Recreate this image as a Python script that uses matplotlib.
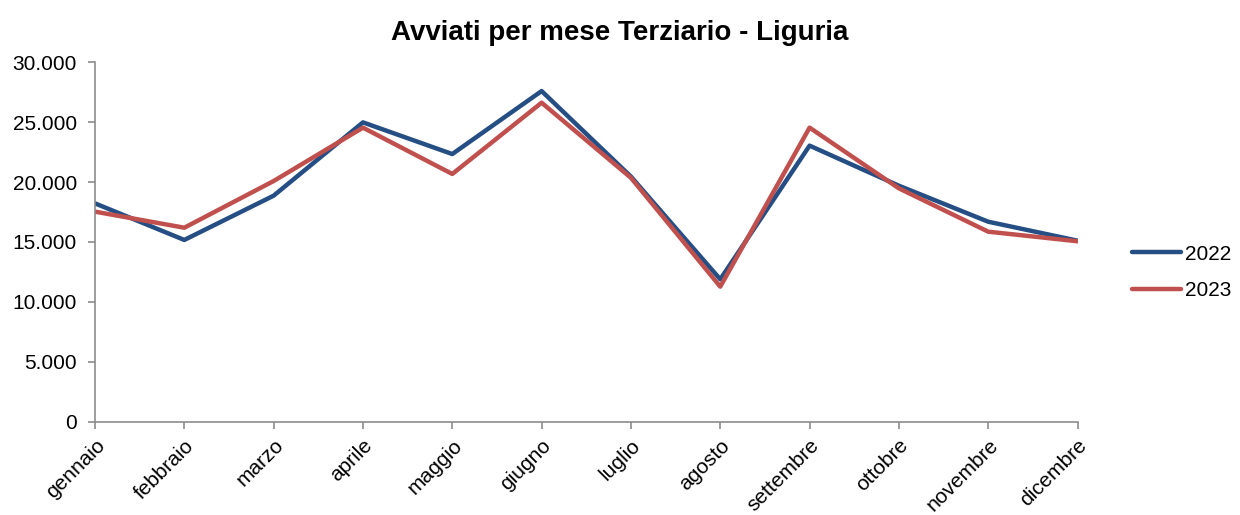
import matplotlib.pyplot as plt
from matplotlib.ticker import FuncFormatter

## Dati
mesi = ['gennaio', 'febbraio', 'marzo', 'aprile', 'maggio', 'giugno',
        'luglio', 'agosto', 'settembre', 'ottobre', 'novembre', 'dicembre']
avviati_2022 = [18220, 15170, 18860, 24970, 22330, 27580,
                20450, 11890, 23030, 19690, 16690, 15110]
avviati_2023 = [17530, 16190, 20080, 24530, 20670, 26610,
                20350, 11280, 24530, 19470, 15860, 15060]

plt.rcParams['font.family'] = ['Liberation Sans', 'DejaVu Sans']

fig = plt.figure(figsize=(12.4, 5.15), dpi=100)
ax = fig.add_axes([0.0766, 0.1806, 0.7924, 0.699])

x = range(len(mesi))
ax.plot(x, avviati_2022, color='#254E84', linewidth=3.2, label='2022',
        solid_joinstyle='round', solid_capstyle='round')
ax.plot(x, avviati_2023, color='#C0504D', linewidth=3.2, label='2023',
        solid_joinstyle='round', solid_capstyle='round')

ax.set_xlim(0, len(mesi) - 1)
ax.set_ylim(0, 30000)
ax.set_yticks(range(0, 30001, 5000))
ax.yaxis.set_major_formatter(FuncFormatter(lambda v, p: f'{int(v):,}'.replace(',', '.')))
ax.set_xticks(list(x))
ax.set_xticklabels(mesi, rotation=45, ha='right', rotation_mode='anchor')

for s in ['top', 'right']:
    ax.spines[s].set_visible(False)
for s in ['left', 'bottom']:
    ax.spines[s].set_color('#8C8C8C')
    ax.spines[s].set_linewidth(1.2)
ax.tick_params(axis='both', colors='#8C8C8C', length=5, width=1.2, labelsize=15,
               labelcolor='black')
ax.tick_params(axis='y', pad=8)
ax.tick_params(axis='x', pad=5)

# titolo centrato sulla figura
fig.text(0.5, 1 - 40 / 515, 'Avviati per mese Terziario - Liguria', fontsize=20,
         fontweight='bold', ha='center', va='baseline')

fig.legend(loc='center left', bbox_to_anchor=(0.898, 0.471), frameon=False,
           fontsize=15, handlelength=2.35, labelspacing=0.85, handletextpad=0.2)

fig.savefig('out.png', dpi=100)
